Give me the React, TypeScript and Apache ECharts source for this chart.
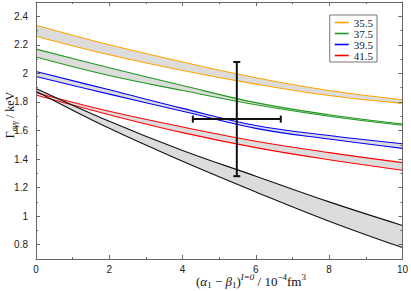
import React, { useEffect, useRef } from 'react';
import * as echarts from 'echarts';

// x positions where the curves were read
const X_VALUES = [0, 2, 4, 6, 8, 10];

// band edges (upper / lower) for each curve family
const ORANGE_HI = [2.337, 2.2, 2.08, 1.97, 1.88, 1.815];
const ORANGE_LO = [2.26, 2.13, 2.02, 1.925, 1.845, 1.79];
const GREEN_HI = [2.17, 2.04, 1.915, 1.795, 1.71, 1.645];
const GREEN_LO = [2.115, 1.985, 1.88, 1.78, 1.7, 1.637];
const BLUE_HI = [2.013, 1.885, 1.755, 1.635, 1.565, 1.507];
const BLUE_LO = [1.978, 1.855, 1.735, 1.615, 1.54, 1.475];
const RED_HI = [1.865, 1.735, 1.625, 1.525, 1.445, 1.375];
const RED_LO = [1.848, 1.71, 1.585, 1.48, 1.395, 1.322];
const BLACK_HI = [1.895, 1.665, 1.46, 1.28, 1.1, 0.935];
const BLACK_LO = [1.875, 1.615, 1.385, 1.17, 0.965, 0.78];

const LEGEND_NAMES = ['35.5', '37.5', '39.5', '41.5'];

// error cross
const CROSS_X = 5.48;
const CROSS_Y = 1.68;
const X_ERR = [4.28, 6.68];
const Y_ERR = [1.28, 2.08];

// axis ticks
const X_MIN = 0;
const X_MAX = 10;
const Y_MIN = 0.7;
const Y_MAX = 2.5;
const Y_MAJOR = [0.8, 1.0, 1.2, 1.4, 1.6, 1.8, 2.0, 2.2, 2.4];

const SERIF = '"Liberation Serif", "DejaVu Serif", serif';
const SANS = '"Liberation Sans", Arial, sans-serif';
const AXIS_COLOR = '#666';
const FILL = '#dcdcdc';

// upper edge: gray fill down to the axis; lower edge: white fill that clears below it
function band(id: string, color: string, hi: number[], lo: number[], legendName?: string) {
  const common = {
    type: 'line',
    smooth: 0.4,
    symbol: 'none',
    showSymbol: false,
    lineStyle: { color, width: 1.1 },
    itemStyle: { color },
    silent: true,
    z: 2,
  };
  return [
    {
      ...common,
      name: legendName ?? id + '-hi',
      data: X_VALUES.map((x, i) => [x, hi[i]]),
      areaStyle: { color: FILL, opacity: 1, origin: 'start' },
    },
    {
      ...common,
      name: id + '-lo',
      data: X_VALUES.map((x, i) => [x, lo[i]]),
      areaStyle: { color: '#ffffff', opacity: 1, origin: 'start' },
    },
  ];
}

export default function App() {
  const ref = useRef<HTMLDivElement>(null);
  useEffect(() => {
    if (!ref.current) return;
    const chart = echarts.init(ref.current, undefined, { renderer: 'svg' });

    const xAxisBase = {
      type: 'value',
      min: X_MIN,
      max: X_MAX,
      interval: 2,
      z: 5,
      axisLine: { show: true, lineStyle: { color: AXIS_COLOR, width: 1 } },
      axisTick: { show: true, inside: true, length: 4, lineStyle: { color: AXIS_COLOR } },
      minorTick: { show: true, splitNumber: 2, length: 2, lineStyle: { color: AXIS_COLOR } },
      splitLine: { show: false },
      minorSplitLine: { show: false },
    };
    const yMinor = {
      type: 'value',
      min: Y_MIN,
      max: Y_MAX,
      interval: 0.1,
      z: 5,
      axisLine: { show: true, lineStyle: { color: AXIS_COLOR, width: 1 } },
      axisTick: { show: true, inside: true, length: 2, lineStyle: { color: AXIS_COLOR } },
      splitLine: { show: false },
    };
    const yMajor = {
      type: 'value',
      min: Y_MIN,
      max: Y_MAX,
      z: 5,
      axisLine: { show: false },
      axisTick: { show: true, inside: true, length: 4, customValues: Y_MAJOR, lineStyle: { color: AXIS_COLOR } },
      axisLabel: { show: false },
      splitLine: { show: false },
    };

    const option: any = {
      animation: false,
      backgroundColor: '#fff',
      grid: { left: 36, right: 6, top: 2, bottom: 32, containLabel: false },
      xAxis: [
        {
          ...xAxisBase,
          position: 'bottom',
          axisLabel: { color: '#222', fontSize: 10, fontFamily: SANS, margin: 5 },
        },
        { ...xAxisBase, position: 'top', axisLabel: { show: false } },
      ],
      yAxis: [
        {
          ...yMinor,
          position: 'left',
          axisLabel: {
            color: '#222',
            fontSize: 10,
            fontFamily: SANS,
            margin: 8,
            formatter: (v: number) => {
              const k = Math.round(v * 10);
              return k % 2 === 0 ? String(k / 10) : '';
            },
          },
        },
        { ...yMajor, position: 'left' },
        { ...yMinor, position: 'right', axisLabel: { show: false } },
        { ...yMajor, position: 'right' },
      ],
      legend: {
        show: true,
        orient: 'vertical',
        right: 34,
        top: 15,
        padding: [2, 4, 1, 5],
        itemGap: 0,
        itemWidth: 14,
        itemHeight: 1.6,
        borderColor: '#777',
        borderWidth: 1,
        backgroundColor: '#fff',
        z: 20,
        textStyle: { fontFamily: SERIF, fontSize: 11, color: '#222', lineHeight: 11 },
        data: LEGEND_NAMES.map((n) => ({ name: n, icon: 'rect' })),
        selectedMode: false,
      },
      series: [
        ...band('orange', '#ffa500', ORANGE_HI, ORANGE_LO, LEGEND_NAMES[0]),
        ...band('green', '#1f9a1f', GREEN_HI, GREEN_LO, LEGEND_NAMES[1]),
        ...band('blue', '#0000ff', BLUE_HI, BLUE_LO, LEGEND_NAMES[2]),
        ...band('red', '#ff0000', RED_HI, RED_LO, LEGEND_NAMES[3]),
        ...band('black', '#111', BLACK_HI, BLACK_LO),
        {
          type: 'custom',
          z: 10,
          silent: true,
          data: [[CROSS_X, CROSS_Y, X_ERR[0], X_ERR[1], Y_ERR[0], Y_ERR[1]]],
          encode: { x: [0, 2, 3], y: [1, 4, 5] },
          renderItem: (_params: any, api: any) => {
            const l = api.coord([api.value(2), api.value(1)]);
            const r = api.coord([api.value(3), api.value(1)]);
            const b = api.coord([api.value(0), api.value(4)]);
            const t = api.coord([api.value(0), api.value(5)]);
            const style = { stroke: '#111', lineWidth: 2 };
            const cap = 3.5;
            return {
              type: 'group',
              children: [
                { type: 'line', shape: { x1: l[0], y1: l[1], x2: r[0], y2: r[1] }, style },
                { type: 'line', shape: { x1: l[0], y1: l[1] - cap, x2: l[0], y2: l[1] + cap }, style },
                { type: 'line', shape: { x1: r[0], y1: r[1] - cap, x2: r[0], y2: r[1] + cap }, style },
                { type: 'line', shape: { x1: b[0], y1: b[1], x2: t[0], y2: t[1] }, style },
                { type: 'line', shape: { x1: b[0] - cap, y1: b[1], x2: b[0] + cap, y2: b[1] }, style },
                { type: 'line', shape: { x1: t[0] - cap, y1: t[1], x2: t[0] + cap, y2: t[1] }, style },
              ],
            };
          },
        },
      ],
      graphic: [
        {
          type: 'text',
          x: 251,
          y: 281,
          z: 20,
          style: {
            text: '{n|(}{i|α}{sub|1}{n| − }{i|β}{sub|1}{n|)}{supi|I=0}{n| / 10}{sup|−4}{n|fm}{sup|3}',
            align: 'center',
            verticalAlign: 'middle',
            fill: '#111',
            rich: {
              n: { fontFamily: SERIF, fontSize: 13, lineHeight: 17, fill: '#111' },
              i: { fontFamily: SERIF, fontSize: 13, fontStyle: 'italic', lineHeight: 17, fill: '#111' },
              sub: { fontFamily: SERIF, fontSize: 9, lineHeight: 17, verticalAlign: 'bottom', fill: '#111' },
              sup: { fontFamily: SERIF, fontSize: 9, lineHeight: 17, verticalAlign: 'top', fill: '#111' },
              supi: { fontFamily: SERIF, fontSize: 9, fontStyle: 'italic', lineHeight: 17, verticalAlign: 'top', fill: '#111' },
            },
          },
        },
        {
          type: 'text',
          x: 10,
          y: 115,
          z: 20,
          rotation: Math.PI / 2,
          style: {
            text: '{n|Γ}{sub|σγγ}{n| / keV}',
            align: 'center',
            verticalAlign: 'middle',
            fill: '#111',
            rich: {
              n: { fontFamily: SERIF, fontSize: 12, lineHeight: 16, fill: '#111' },
              sub: { fontFamily: SERIF, fontSize: 8, fontStyle: 'italic', lineHeight: 16, verticalAlign: 'bottom', fill: '#111' },
            },
          },
        },
      ],
    };
    chart.setOption(option);
    return () => chart.dispose();
  }, []);
  return (
    <div
      ref={ref}
      style={{ position: 'absolute', left: 0, top: 0, width: 411, height: 291, background: '#fff' }}
    />
  );
}
